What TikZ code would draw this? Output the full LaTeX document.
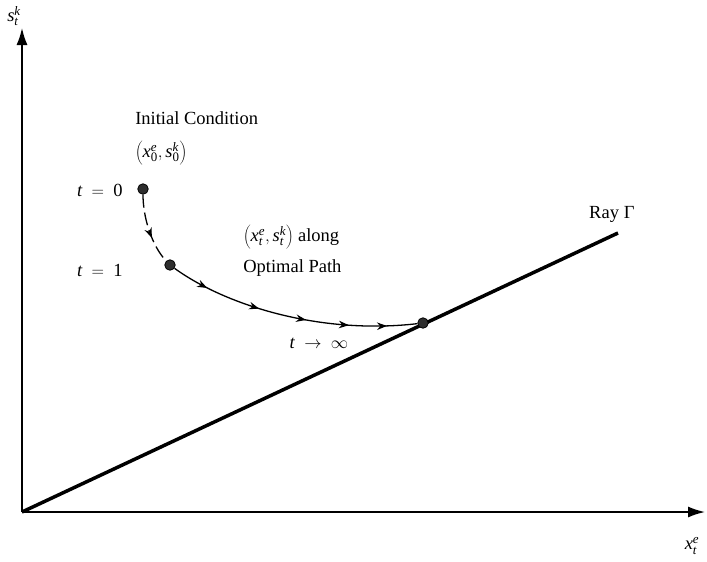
\documentclass[tikz,border=0pt]{standalone}
\usepackage{mathspec}
\setmainfont{Liberation Serif}
\setmathsfont(Digits,Latin)[Numbers={Lining,Proportional}]{Liberation Serif}
\setmathsfont(Greek)[Uppercase=Regular,Lowercase=Italic]{Liberation Serif}
\usetikzlibrary{arrows.meta,decorations.markings,positioning}

\begin{document}
\begin{tikzpicture}[x=1pt,y=-1pt,semithick,font=\fontsize{18.5}{22}\selectfont]
  \tikzstyle{dot}=[circle,fill=black!82,draw=black,line width=0.8pt,minimum size=10.5pt,inner sep=0pt]
  \tikzstyle{axis}=[line width=1.6pt,-{Latex[length=17pt,width=11pt]}]
  \tikzstyle{label}=[inner sep=0pt]
  \tikzstyle{firststep}=[line width=1.3pt,dash pattern=on 13pt off 5pt,
    decoration={markings,mark=at position 0.62 with {\arrow{Stealth[length=10pt,width=7.5pt]}}},
    postaction={decorate}]
  \tikzstyle{optpath}=[line width=1.3pt,
    decoration={markings,
      mark=at position 0.15 with {\arrow{Stealth[length=10pt,width=7.5pt]}},
      mark=at position 0.37 with {\arrow{Stealth[length=10pt,width=7.5pt]}},
      mark=at position 0.56 with {\arrow{Stealth[length=10pt,width=7.5pt]}},
      mark=at position 0.73 with {\arrow{Stealth[length=10pt,width=7.5pt]}},
      mark=at position 0.88 with {\arrow{Stealth[length=10pt,width=7.5pt]}}},
    postaction={decorate}]
\useasboundingbox (0,0) rectangle (707,562);
\coordinate (o) at (22,512);
\coordinate (ytop) at (22,28);
\coordinate (xend) at (705,512);
\coordinate (rayend) at (618,233);
% axes and the ray
\draw[axis] (o) -- (ytop);
\draw[axis] (o) -- (xend);
\draw[line width=3.5pt] (o) -- (rayend);
% states along the path
\node[dot] (p0) at (143,189) {};
\node[dot] (p1) at (170,265) {};
\node[dot] (pinf) at (423,323) {};
\draw[firststep] (p0) .. controls (143,218) and (152,246) .. (p1);
\draw[optpath] (p1) .. controls (225,305) and (320,335) .. (pinf);
% labels
\node[label,anchor=east] (t0) at (123,190) {$t\ =\ 0$};
\node[label,anchor=east] (t1) at (123,270) {$t\ =\ 1$};
\node[label,anchor=west] (ic) at (135,118) {Initial Condition};
\node[label,anchor=west] (ic0) at (135,153) {$\left(x_0^e, s_0^k\right)$};
\node[label,anchor=west] (op) at (243,237) {$\left(x_t^e, s_t^k\right)$ along};
\node[label,anchor=west] (op2) at (243,268) {Optimal Path};
\node[label] (tinf) at (319,343) {$t\ \to\ \infty$};
\node[label] (ray) at (612,214) {Ray $\Gamma$};
\node[label] (xl) at (692,546) {$x_t^e$};
\node[label] (yl) at (14,16) {$s_t^k$};
\end{tikzpicture}
\end{document}
